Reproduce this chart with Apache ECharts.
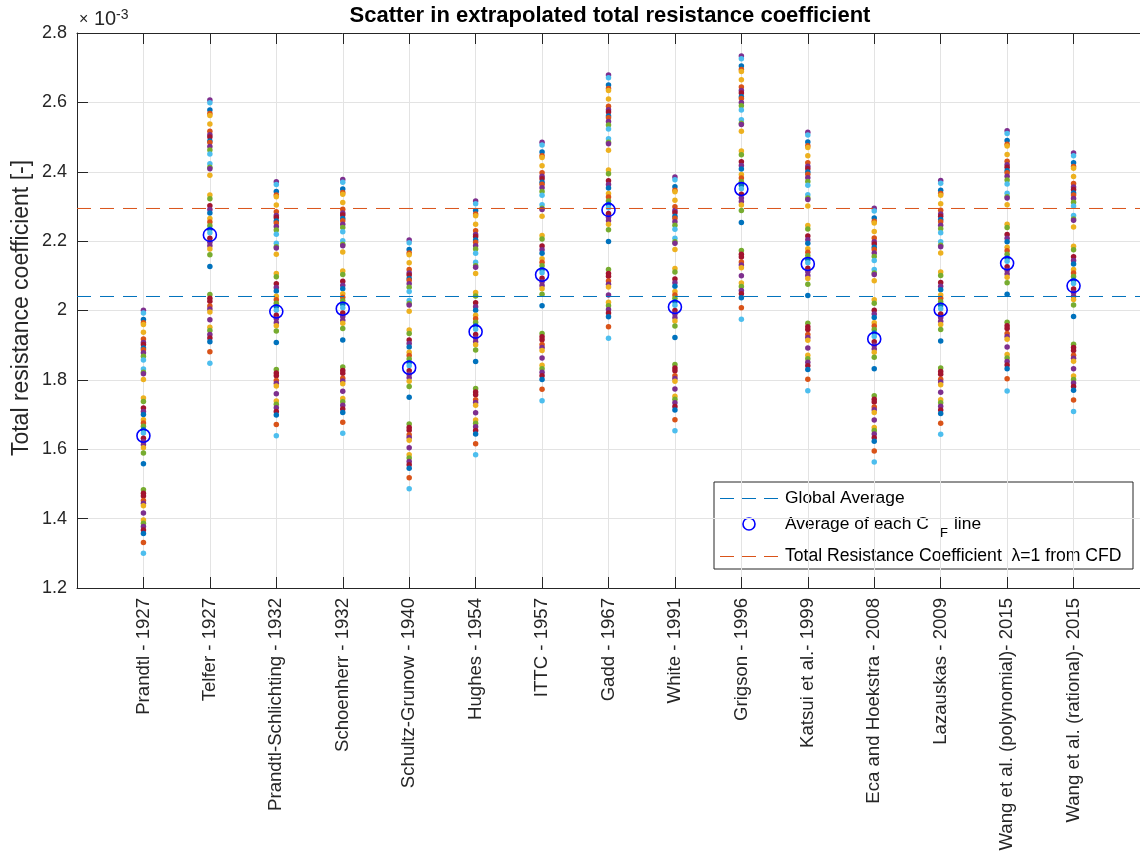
<!DOCTYPE html>
<html>
<head>
<meta charset="utf-8">
<script src="https://cdn.jsdelivr.net/npm/echarts@6/dist/echarts.min.js"></script>
<style>html,body{margin:0;padding:0;background:#fff}#c{width:1140px;height:860px}</style>
</head>
<body>
<div id="c"></div>
<script>
const categories = ['Prandtl - 1927','Telfer - 1927','Prandtl-Schlichting - 1932','Schoenherr - 1932','Schultz-Grunow - 1940','Hughes - 1954','ITTC - 1957','Gadd - 1967','White - 1991','Grigson - 1996','Katsui et al.- 1999','Eca and Hoekstra - 2008','Lazauskas - 2009','Wang et al. (polynomial)- 2015','Wang et al. (rational)- 2015'];
const yTicks = [1.2, 1.4, 1.6, 1.8, 2.0, 2.2, 2.4, 2.6, 2.8];
// colour of each case (same case = same colour in every column)
const caseColors = ['P','C','B','O','Y','Y','O','P','R','B','O','P','G','C','C','G','P','Y','Y','G','R','P','B','Y','O','G','B','C','R','P','P','Y','G','B','G','R','R','O','P','Y','P','Y','G','P','R','B','O','C'];
// values in units of 1e-3
const prandtl1927 = [2.001,1.993,1.974,1.965,1.960,1.937,1.918,1.908,1.902,1.892,1.887,1.878,1.868,1.857,1.831,1.822,1.818,1.801,1.748,1.738,1.719,1.709,1.700,1.685,1.676,1.666,1.656,1.647,1.632,1.622,1.613,1.604,1.589,1.558,1.483,1.473,1.465,1.452,1.444,1.437,1.416,1.396,1.387,1.377,1.367,1.357,1.331,1.300];
const telfer1927 = [2.607,2.599,2.578,2.568,2.562,2.538,2.517,2.507,2.500,2.489,2.484,2.473,2.463,2.451,2.423,2.413,2.409,2.390,2.333,2.322,2.302,2.291,2.281,2.265,2.255,2.244,2.234,2.224,2.208,2.197,2.187,2.177,2.161,2.127,2.046,2.035,2.027,2.013,2.004,1.996,1.973,1.952,1.942,1.931,1.921,1.910,1.881,1.848];
const prandtlSchlichting1932 = [2.371,2.363,2.343,2.333,2.328,2.304,2.285,2.274,2.268,2.258,2.252,2.242,2.232,2.220,2.194,2.184,2.180,2.162,2.107,2.097,2.077,2.066,2.056,2.041,2.031,2.021,2.011,2.001,1.986,1.976,1.965,1.956,1.941,1.908,1.830,1.820,1.812,1.798,1.790,1.782,1.760,1.739,1.730,1.720,1.709,1.699,1.671,1.639];
const schoenherr1932 = [2.378,2.370,2.350,2.340,2.335,2.311,2.292,2.281,2.275,2.265,2.259,2.249,2.239,2.227,2.201,2.191,2.187,2.169,2.114,2.104,2.084,2.073,2.063,2.048,2.038,2.028,2.018,2.008,1.993,1.983,1.972,1.963,1.948,1.915,1.837,1.827,1.819,1.805,1.797,1.789,1.767,1.746,1.737,1.727,1.716,1.706,1.678,1.646];
const schultzGrunow1940 = [2.203,2.195,2.176,2.166,2.161,2.138,2.118,2.108,2.102,2.092,2.087,2.077,2.067,2.055,2.029,2.020,2.016,1.998,1.944,1.934,1.915,1.905,1.895,1.880,1.870,1.860,1.850,1.841,1.826,1.816,1.806,1.796,1.781,1.750,1.673,1.663,1.655,1.642,1.634,1.626,1.604,1.584,1.575,1.565,1.555,1.545,1.518,1.486];
const hughes1954 = [2.316,2.308,2.288,2.278,2.273,2.249,2.230,2.219,2.213,2.203,2.197,2.187,2.177,2.165,2.139,2.129,2.125,2.107,2.052,2.042,2.022,2.011,2.001,1.986,1.976,1.966,1.956,1.946,1.931,1.921,1.910,1.901,1.886,1.853,1.775,1.765,1.757,1.743,1.735,1.727,1.705,1.684,1.675,1.665,1.654,1.644,1.616,1.584];
const ittc1957 = [2.485,2.477,2.457,2.446,2.441,2.417,2.397,2.387,2.380,2.370,2.364,2.354,2.343,2.332,2.305,2.295,2.291,2.272,2.216,2.206,2.186,2.175,2.165,2.149,2.139,2.129,2.118,2.109,2.093,2.083,2.072,2.063,2.047,2.014,1.934,1.924,1.916,1.902,1.893,1.885,1.863,1.842,1.832,1.822,1.812,1.801,1.773,1.740];
const gadd1967 = [2.679,2.671,2.650,2.640,2.634,2.610,2.589,2.579,2.572,2.561,2.556,2.545,2.535,2.523,2.495,2.485,2.481,2.462,2.405,2.394,2.374,2.363,2.353,2.337,2.327,2.316,2.306,2.296,2.280,2.269,2.259,2.249,2.233,2.199,2.118,2.107,2.099,2.085,2.076,2.068,2.045,2.024,2.014,2.003,1.993,1.982,1.953,1.920];
const white1991 = [2.385,2.377,2.357,2.347,2.342,2.318,2.299,2.288,2.282,2.272,2.266,2.256,2.246,2.234,2.208,2.198,2.194,2.176,2.121,2.111,2.091,2.080,2.070,2.055,2.045,2.035,2.025,2.015,2.000,1.990,1.979,1.970,1.955,1.922,1.844,1.834,1.826,1.812,1.804,1.796,1.774,1.753,1.744,1.734,1.723,1.713,1.685,1.653];
const grigson1996 = [2.734,2.726,2.705,2.695,2.689,2.665,2.644,2.634,2.627,2.616,2.611,2.600,2.590,2.578,2.550,2.540,2.536,2.517,2.460,2.449,2.429,2.418,2.408,2.392,2.382,2.371,2.361,2.351,2.335,2.324,2.314,2.304,2.288,2.254,2.173,2.162,2.154,2.140,2.131,2.123,2.100,2.079,2.069,2.058,2.048,2.037,2.008,1.975];
const katsui1999 = [2.514,2.506,2.486,2.475,2.470,2.446,2.426,2.416,2.409,2.399,2.393,2.383,2.372,2.361,2.334,2.324,2.320,2.301,2.245,2.235,2.215,2.204,2.194,2.178,2.168,2.158,2.147,2.138,2.122,2.112,2.101,2.092,2.076,2.043,1.963,1.953,1.945,1.931,1.922,1.914,1.892,1.871,1.861,1.851,1.841,1.830,1.802,1.769];
const ecaHoekstra2008 = [2.295,2.287,2.267,2.257,2.252,2.228,2.209,2.198,2.192,2.182,2.176,2.166,2.156,2.144,2.118,2.108,2.104,2.086,2.031,2.021,2.001,1.990,1.980,1.965,1.955,1.945,1.935,1.925,1.910,1.900,1.889,1.880,1.865,1.832,1.754,1.744,1.736,1.722,1.714,1.706,1.684,1.663,1.654,1.644,1.633,1.623,1.595,1.563];
const lazauskas2009 = [2.375,2.367,2.347,2.337,2.332,2.308,2.289,2.278,2.272,2.262,2.256,2.246,2.236,2.224,2.198,2.188,2.184,2.166,2.111,2.101,2.081,2.070,2.060,2.045,2.035,2.025,2.015,2.005,1.990,1.980,1.969,1.960,1.945,1.912,1.834,1.824,1.816,1.802,1.794,1.786,1.764,1.743,1.734,1.724,1.713,1.703,1.675,1.643];
const wangPoly2015 = [2.518,2.510,2.490,2.479,2.474,2.450,2.430,2.420,2.413,2.403,2.397,2.387,2.376,2.365,2.338,2.328,2.324,2.305,2.249,2.239,2.219,2.208,2.198,2.182,2.172,2.162,2.151,2.142,2.126,2.116,2.105,2.096,2.080,2.047,1.966,1.956,1.948,1.934,1.925,1.917,1.895,1.873,1.863,1.853,1.843,1.832,1.803,1.768];
const wangRat2015 = [2.454,2.446,2.426,2.415,2.410,2.386,2.366,2.356,2.349,2.339,2.333,2.323,2.312,2.301,2.274,2.264,2.260,2.241,2.185,2.175,2.155,2.144,2.134,2.118,2.108,2.098,2.087,2.078,2.062,2.052,2.041,2.032,2.016,1.983,1.903,1.893,1.885,1.871,1.862,1.854,1.832,1.811,1.801,1.791,1.781,1.770,1.742,1.709];
const lineAverages = [1.639,2.218,1.997,2.005,1.835,1.939,2.103,2.290,2.010,2.350,2.134,1.918,2.002,2.136,2.071];
const globalAverage = 2.0404;
const cfdValue = 2.2941;

const columns = [prandtl1927, telfer1927, prandtlSchlichting1932, schoenherr1932, schultzGrunow1940, hughes1954, ittc1957, gadd1967, white1991, grigson1996, katsui1999, ecaHoekstra2008, lazauskas2009, wangPoly2015, wangRat2015];
const palette = {B:'#0072BD', O:'#D95319', Y:'#EDB120', P:'#7E2F8E', G:'#77AC30', C:'#4DBEEE', R:'#A2142F'};

const FONT = '"Liberation Sans", Arial, Helvetica, sans-serif';
const AX = '#262626';
const chart = echarts.init(document.getElementById('c'), null, {renderer:'canvas'});

const series = [];
columns.forEach((col, i) => {
  series.push({
    type:'scatter', xAxisIndex:0, yAxisIndex:0, symbol:'circle', symbolSize:5.5, silent:true, z:2,
    data: col.map((v, j) => ({value:[i + 1, v], itemStyle:{color: palette[caseColors[j]], opacity:1}}))
  });
});
series.push({
  type:'line', xAxisIndex:0, yAxisIndex:0, symbol:'none', silent:true, z:3,
  data:[[0, globalAverage],[16, globalAverage]],
  lineStyle:{color:'#0072BD', width:1, type:[14, 9], opacity:1}
});
series.push({
  type:'scatter', xAxisIndex:0, yAxisIndex:0, symbol:'circle', symbolSize:13, silent:true, z:4,
  data: lineAverages.map((v, i) => [i + 1, v]),
  itemStyle:{color:'rgba(0,0,0,0)', borderColor:'#0000FF', borderWidth:1.6, opacity:1}
});
series.push({
  type:'line', xAxisIndex:0, yAxisIndex:0, symbol:'none', silent:true, z:3,
  data:[[0, cfdValue],[16, cfdValue]],
  lineStyle:{color:'#D95319', width:1, type:[14, 9], opacity:1}
});

const legendX = 714, legendY = 482;
chart.setOption({
  animation:false,
  backgroundColor:'#fff',
  grid:{left:77, top:33, width:1067, height:555, containLabel:false},
  xAxis:[{
    type:'value', min:0, max:16, interval:1, position:'bottom',
    axisLine:{show:true, onZero:false, lineStyle:{color:AX, width:1}},
    axisTick:{show:true, inside:true, length:11, lineStyle:{color:AX}},
    splitLine:{show:true, lineStyle:{color:'#e3e3e3', width:1}},
    axisLabel:{
      rotate:90, margin:10, fontSize:18.6, color:AX, fontFamily:FONT,
      showMinLabel:true, showMaxLabel:true,
      formatter: v => (v >= 1 && v <= categories.length) ? categories[v - 1] : ''
    }
  },{
    type:'value', min:0, max:16, interval:1, position:'top',
    axisLine:{show:true, onZero:false, lineStyle:{color:AX, width:1}},
    axisTick:{show:true, inside:true, length:11, lineStyle:{color:AX}},
    splitLine:{show:false}, axisLabel:{show:false}
  }],
  yAxis:[{
    type:'value', min:yTicks[0], max:yTicks[yTicks.length - 1], interval:0.2,
    axisLine:{show:true, onZero:false, lineStyle:{color:AX, width:1}},
    axisTick:{show:true, inside:true, length:11, lineStyle:{color:AX}},
    splitLine:{show:true, lineStyle:{color:'#e3e3e3', width:1}},
    axisLabel:{fontSize:18, color:AX, fontFamily:FONT, margin:10, formatter: v => String(+v.toFixed(1))}
  }],
  series: series,
  graphic:[
    {type:'text', x:610, y:16, z:10, style:{text:'Scatter in extrapolated total resistance coefficient', font:'bold 22px ' + FONT, fill:'#000', textAlign:'center', textVerticalAlign:'middle'}},
    {type:'text', x:79, y:28, z:10, style:{text:'\u00d7', font:'16px ' + FONT, fill:AX, textAlign:'left', textVerticalAlign:'bottom'}},
    {type:'text', x:94, y:29, z:10, style:{text:'10', font:'20px ' + FONT, fill:AX, textAlign:'left', textVerticalAlign:'bottom'}},
    {type:'text', x:116, y:22, z:10, style:{text:'-3', font:'14px ' + FONT, fill:AX, textAlign:'left', textVerticalAlign:'bottom'}},
    {type:'text', x:22, y:308, rotation:Math.PI / 2, z:10, style:{text:'Total resistance coefficient [-]', font:'23px ' + FONT, fill:AX, textAlign:'center', textVerticalAlign:'middle'}},
    {type:'group', x:legendX, y:legendY, z:20, children:[
      {type:'rect', shape:{x:0, y:0, width:419, height:87}, style:{fill:'#fff', stroke:'#262626', lineWidth:1}},
      {type:'line', shape:{x1:6, y1:16.5, x2:64, y2:16.5}, style:{stroke:'#0072BD', lineWidth:1, lineDash:[14, 8]}},
      {type:'text', x:71, y:16, style:{text:'Global Average', font:'17.4px ' + FONT, fill:'#000', textVerticalAlign:'middle'}},
      {type:'circle', shape:{cx:35, cy:42, r:6}, style:{fill:'none', stroke:'#0000FF', lineWidth:1.6}},
      {type:'text', x:71, y:42, style:{text:'Average of each C', font:'17.4px ' + FONT, fill:'#000', textVerticalAlign:'middle'}},
      {type:'text', x:226, y:51, style:{text:'F', font:'13px ' + FONT, fill:'#000', textVerticalAlign:'middle'}},
      {type:'text', x:240, y:42, style:{text:'line', font:'17.4px ' + FONT, fill:'#000', textVerticalAlign:'middle'}},
      {type:'line', shape:{x1:6, y1:74.5, x2:64, y2:74.5}, style:{stroke:'#D95319', lineWidth:1, lineDash:[14, 8]}},
      {type:'text', x:71, y:74, style:{text:'Total Resistance Coefficient  \u03bb=1 from CFD', font:'17.6px ' + FONT, fill:'#000', textVerticalAlign:'middle'}}
    ]}
  ]
});
</script>
</body>
</html>
